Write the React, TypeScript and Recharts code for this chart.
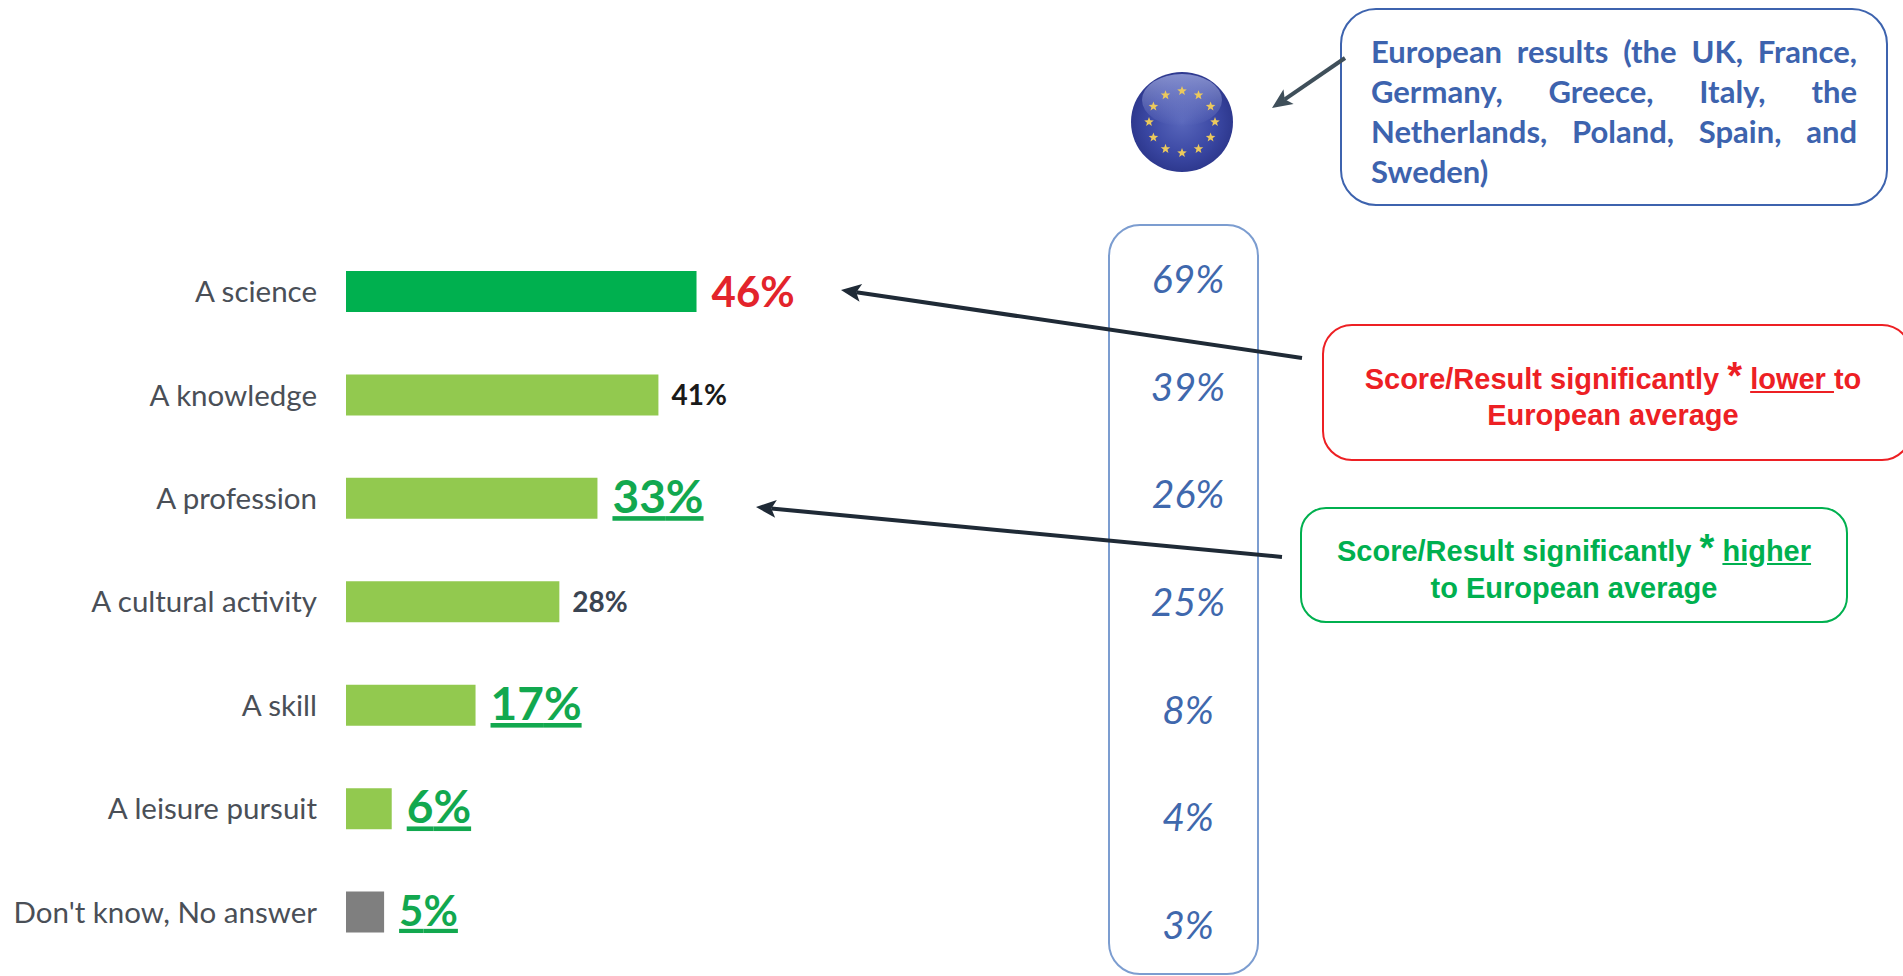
import { BarChart, Bar, Cell, LabelList, XAxis, YAxis } from 'recharts';

const categories = ['A science', 'A knowledge', 'A profession', 'A cultural activity', 'A skill', 'A leisure pursuit', "Don't know, No answer"];
const countryValues = [46, 41, 33, 28, 17, 6, 5];
const europeValues = [69, 39, 26, 25, 8, 4, 3];
const significance = ['lower', 'none', 'higher', 'none', 'higher', 'higher', 'higher'];

const chartData = categories.map((category, i) => ({
  category,
  country: countryValues[i],
  europe: europeValues[i],
}));

const BAR_COLORS = ['#00b04f', '#92c94f', '#92c94f', '#92c94f', '#92c94f', '#92c94f', '#7f7f7f'];
const NONE_COLORS = ['#1a1a1a', '#3a4452'];
const LABEL_SIZES = [42, 28, 46, 28, 46, 46, 42];
const FONT = 'Lato, sans-serif';
const W = 1903;
const H = 976;

function ValueLabel(props: any) {
  const { x, y, width, height, index, value } = props;
  const kind = significance[index];
  const big = kind !== 'none';
  const fill = kind === 'lower' ? '#e3242b' : kind === 'higher' ? '#12a84f' : NONE_COLORS[index === 1 ? 0 : 1];
  return (
    <text
      x={x + width + (big ? 15 : 13)}
      y={y + height / 2 + (kind === 'lower' ? 5 : 3)}
      dominantBaseline="middle"
      fontFamily={FONT}
      fontWeight={700}
      fontSize={LABEL_SIZES[index]}
      fill={fill}
      style={kind === 'higher' ? { textDecoration: 'underline', textUnderlineOffset: 13, textDecorationThickness: 4 } : undefined}
    >
      {value}%
    </text>
  );
}

function EuropeTick(props: any) {
  const { x, y, index } = props;
  return (
    <text x={x} y={y} textAnchor="middle" dominantBaseline="middle" fontFamily={FONT} fontStyle="italic" fontSize={39} fill="#3f68ad">
      {europeValues[index]}%
    </text>
  );
}

function starPoints(cx: number, cy: number, r: number) {
  const pts: string[] = [];
  for (let i = 0; i < 10; i++) {
    const rad = i % 2 === 0 ? r : r * 0.42;
    const a = (i * Math.PI) / 5;
    pts.push(`${cx + rad * Math.sin(a)},${cy - rad * Math.cos(a)}`);
  }
  return pts.join(' ');
}

function EuFlag() {
  const stars = Array.from({ length: 12 }, (_, i) => (i * Math.PI) / 6);
  return (
    <g>
      <defs>
        <radialGradient id="flagFill" cx="50%" cy="50%" r="55%">
          <stop offset="0%" stopColor="#5866bb" />
          <stop offset="60%" stopColor="#3b48a4" />
          <stop offset="100%" stopColor="#2a3488" />
        </radialGradient>
        <linearGradient id="flagShine" x1="0" y1="0" x2="0" y2="1">
          <stop offset="0%" stopColor="#aab4e8" stopOpacity={0.7} />
          <stop offset="100%" stopColor="#aab4e8" stopOpacity={0} />
        </linearGradient>
      </defs>
      <ellipse cx={1182} cy={122} rx={51} ry={50} fill="url(#flagFill)" />
      <ellipse cx={1182} cy={100} rx={40} ry={26} fill="url(#flagShine)" />
      {stars.map((a, i) => (
        <polygon key={i} points={starPoints(1182 + 33 * Math.sin(a), 122 - 31 * Math.cos(a), 5)} fill="#ecc95c" />
      ))}
    </g>
  );
}

function Arrow({ x1, y1, x2, y2, color, width }: { x1: number; y1: number; x2: number; y2: number; color: string; width: number }) {
  const a = Math.atan2(y2 - y1, x2 - x1);
  const len = 22;
  const spread = 0.42;
  const p1 = `${x2 - len * Math.cos(a - spread)},${y2 - len * Math.sin(a - spread)}`;
  const p2 = `${x2 - len * Math.cos(a + spread)},${y2 - len * Math.sin(a + spread)}`;
  const p3 = `${x2 - 0.7 * len * Math.cos(a)},${y2 - 0.7 * len * Math.sin(a)}`;
  return (
    <g>
      <line x1={x1} y1={y1} x2={x2 - 0.7 * len * Math.cos(a)} y2={y2 - 0.7 * len * Math.sin(a)} stroke={color} strokeWidth={width} />
      <polygon points={`${x2},${y2} ${p1} ${p3} ${p2}`} fill={color} />
    </g>
  );
}

const boxStyle = (left: number, top: number, width: number, height: number, color: string, radius: number): React.CSSProperties => ({
  position: 'absolute',
  left,
  top,
  width,
  height,
  boxSizing: 'border-box',
  border: `2px solid ${color}`,
  borderRadius: radius,
  background: '#fff',
});

const calloutText: React.CSSProperties = {
  position: 'absolute',
  left: 0,
  right: 0,
  textAlign: 'center',
  fontFamily: '"Liberation Sans", Arial, sans-serif',
  fontWeight: 700,
  fontSize: 29,
  lineHeight: '36px',
  whiteSpace: 'nowrap',
};

const euLine: React.CSSProperties = {
  height: 40,
  lineHeight: '40px',
  textAlign: 'justify',
  textAlignLast: 'justify',
  whiteSpace: 'normal',
};

export default function App() {
  return (
    <div style={{ position: 'absolute', left: 0, top: 0, width: W, height: H, overflow: 'hidden', background: '#fff' }}>
      <div style={{ position: 'absolute', left: 1108, top: 224, width: 151, height: 751, boxSizing: 'border-box', border: '2px solid #7c9dd0', borderRadius: 32 }} />

      <div style={{ position: 'absolute', left: 0, top: 0 }}>
        <BarChart width={W} height={H} data={chartData} layout="vertical" margin={{ top: 240, right: 795, bottom: 12, left: 0 }}>
          <XAxis type="number" domain={[0, 100]} hide />
          <YAxis
            type="category"
            dataKey="category"
            width={346}
            tickLine={false}
            axisLine={false}
            tickMargin={23}
            interval={0}
            tick={{ fontFamily: FONT, fontSize: 29.5, fill: '#4a4f57' }}
          />
          <Bar dataKey="country" barSize={41} isAnimationActive={false}>
            {chartData.map((entry, i) => (
              <Cell key={entry.category} fill={BAR_COLORS[i]} />
            ))}
            <LabelList dataKey="country" content={<ValueLabel />} />
          </Bar>
        </BarChart>
      </div>

      <div style={{ position: 'absolute', left: 0, top: 0 }}>
        <BarChart width={W} height={H} data={chartData} layout="vertical" margin={{ top: 283, right: 600, bottom: 47, left: 0 }}>
          <XAxis type="number" domain={[0, 100]} hide />
          <YAxis
            type="category"
            dataKey="category"
            scale="point"
            width={1188}
            tickLine={false}
            axisLine={false}
            tickMargin={0}
            tickSize={0}
            interval={0}
            tick={<EuropeTick />}
          />
          <Bar dataKey="europe" fill="none" isAnimationActive={false} />
        </BarChart>
      </div>

      <div style={boxStyle(1340, 8, 548, 198, '#3d63ae', 36)}>
        <div style={{ position: 'absolute', left: 29, width: 486, top: 21, color: '#3d63ae', fontFamily: FONT, fontWeight: 700, fontSize: 31 }}>
          <div style={euLine}>European results (the UK, France,</div>
          <div style={euLine}>Germany, Greece, Italy, the</div>
          <div style={euLine}>Netherlands, Poland, Spain, and</div>
          <div style={{ ...euLine, textAlignLast: 'left' }}>Sweden)</div>
        </div>
      </div>

      <div style={boxStyle(1322, 324, 590, 137, '#ed2024', 30)}>
        <div style={{ ...calloutText, color: '#ed2024', top: 32, width: 578 }}>
          Score/Result significantly <span style={{ fontSize: 38 }}>*</span> <u>lower </u>to
        </div>
        <div style={{ ...calloutText, color: '#ed2024', top: 71, width: 578 }}>European average</div>
      </div>

      <div style={boxStyle(1300, 507, 548, 116, '#00b04f', 26)}>
        <div style={{ ...calloutText, color: '#00b04f', top: 21 }}>
          Score/Result significantly <span style={{ fontSize: 38 }}>*</span> <u>higher</u>
        </div>
        <div style={{ ...calloutText, color: '#00b04f', top: 61 }}>to European average</div>
      </div>

      <svg width={W} height={H} style={{ position: 'absolute', left: 0, top: 0, pointerEvents: 'none' }}>
        <EuFlag />
        <Arrow x1={1345} y1={58} x2={1272} y2={108} color="#3f4f5a" width={4} />
        <Arrow x1={1302} y1={358} x2={841} y2={290} color="#1f2a36" width={4} />
        <Arrow x1={1282} y1={557} x2={756} y2={507} color="#1f2a36" width={4} />
      </svg>
    </div>
  );
}
